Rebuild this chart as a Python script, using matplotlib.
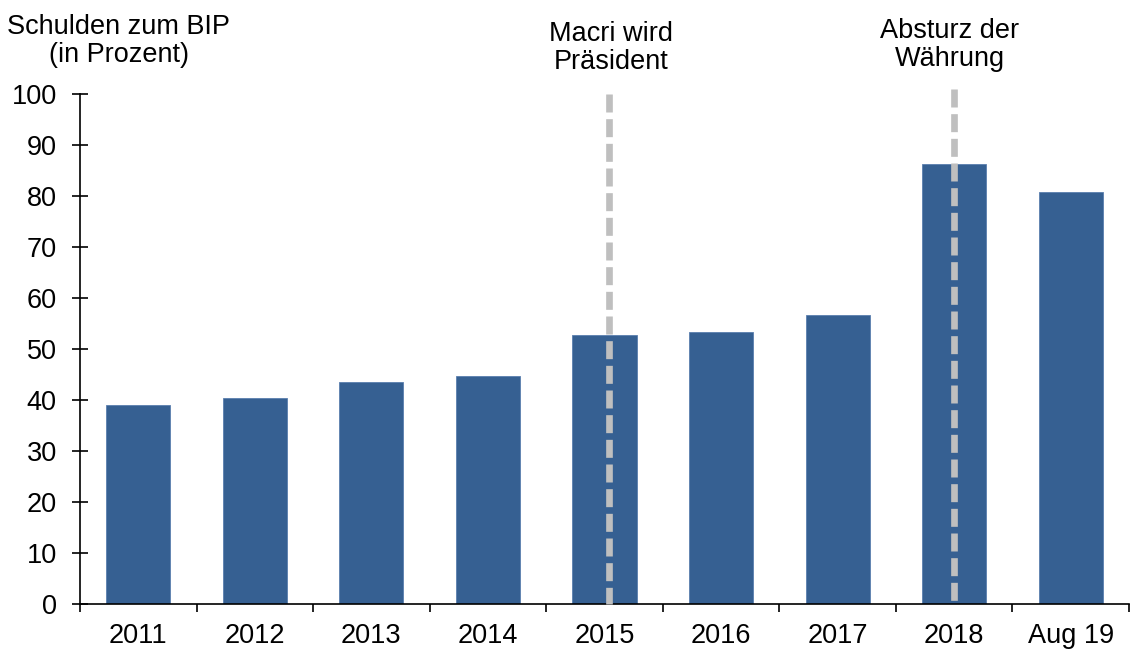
import matplotlib
matplotlib.use("Agg")
import matplotlib.pyplot as plt
import numpy as np

plt.rcParams['font.family'] = ['Liberation Sans', 'DejaVu Sans']

categories = ["2011", "2012", "2013", "2014", "2015", "2016", "2017", "2018", "Aug 19"]
values = [39.0, 40.4, 43.5, 44.8, 52.7, 53.3, 56.7, 86.2, 80.8]
events = ["2015", "2018"]
event_labels = ["Macri wird\nPräsident", "Absturz der\nWährung"]

FS = 19.5
fig = plt.figure(figsize=(11.3, 6.49), dpi=100)
ax = fig.add_axes([80/1130, 45/649, 1049/1130, 510/649])

x = np.arange(len(categories))
ax.bar(x, values, width=0.55, color="#366092", edgecolor="#5a7fae", linewidth=0.6, zorder=2)

ax.set_xlim(-0.5, len(categories) - 0.5)
ax.set_ylim(0, 100)
ax.set_yticks(np.arange(0, 101, 10))
ax.tick_params(axis='y', direction='inout', length=11.5, width=1.2, labelsize=FS, pad=11)
ax.set_xticks(np.arange(-0.5, len(categories), 1.0))
ax.set_xticklabels([])
ax.set_xticks(x, minor=True)
ax.set_xticklabels(categories, minor=True)
ax.tick_params(axis='x', which='major', direction='out', length=6, width=1.2)
ax.tick_params(axis='x', which='minor', length=0, labelsize=FS, pad=14)

for s in ['top', 'right']:
    ax.spines[s].set_visible(False)
for s in ['left', 'bottom']:
    ax.spines[s].set_linewidth(1.2)

tops = [100, 101]
line_dx = [0.035, 0.0]
text_dx = [0.06, -0.04]
text_y = [109.0, 109.6]
for ev, lab, t, ldx, tdx, ty in zip(events, event_labels, tops, line_dx, text_dx, text_y):
    xi = categories.index(ev)
    ax.plot([xi + ldx, xi + ldx], [t, 0], color="#bfbfbf", linewidth=4.8,
            linestyle=(0, (2.7, 1.0)), zorder=3, clip_on=False,
            solid_capstyle='butt', dash_capstyle='butt')
    ax.text(xi + tdx, ty, lab, ha='center', va='center', fontsize=FS, linespacing=1.1,
            clip_on=False)

ax.text(-0.166, 110.4, "Schulden zum BIP\n(in Prozent)", ha='center', va='center',
        fontsize=FS, linespacing=1.1, clip_on=False)

fig.savefig("out.png", dpi=100)
